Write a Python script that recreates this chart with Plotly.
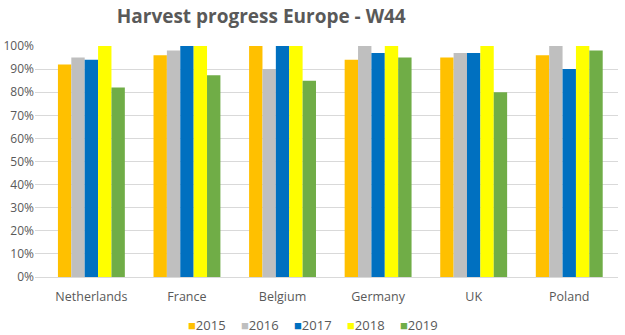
import plotly.graph_objects as go

countries = ["Netherlands", "France", "Belgium", "Germany", "UK", "Poland"]
years = ["2015", "2016", "2017", "2018", "2019"]
v2015 = [0.92, 0.96, 1.00, 0.94, 0.95, 0.96]
v2016 = [0.95, 0.98, 0.90, 1.00, 0.97, 1.00]
v2017 = [0.94, 1.00, 1.00, 0.97, 0.97, 0.90]
v2018 = [1.00, 1.00, 1.00, 1.00, 1.00, 1.00]
v2019 = [0.82, 0.873, 0.85, 0.95, 0.80, 0.98]
colors = ["#FFC000", "#BFBFBF", "#0070C0", "#FFFF00", "#70AD47"]

fig = go.Figure()
for y, vals, c in zip(years, [v2015, v2016, v2017, v2018, v2019], colors):
    fig.add_trace(go.Bar(name=y, x=countries, y=vals, marker_color=c,
                         marker_line_width=0, showlegend=False))

font = "Open Sans, Liberation Sans, sans-serif"
W, H = 625, 335
ml, mr, mt, mb = 35, 7, 46, 58
pw, ph = W - ml - mr, H - mt - mb

# custom compact legend (Excel-like), built from years/colors
leg_start_px, leg_step_px, leg_y_px = 186, 53, 325
for i, (yr, c) in enumerate(zip(years, colors)):
    fig.add_annotation(
        xref="paper", yref="paper",
        x=(leg_start_px + i * leg_step_px - ml) / pw,
        y=(H - mb - leg_y_px) / ph,
        xanchor="left", yanchor="middle", showarrow=False,
        text=f"<span style='color:{c}'>■</span>{yr}",
        font=dict(family=font, size=13, color="#595959"),
    )

fig.update_layout(
    width=W, height=H,
    margin=dict(l=ml, r=mr, t=mt, b=mb, autoexpand=False),
    paper_bgcolor="white", plot_bgcolor="white",
    barmode="group", bargap=0.3, bargroupgap=0,
    title=dict(text="<b>Harvest progress Europe - W44</b>", x=0.418, xanchor="center",
               y=0.95, yanchor="middle", font=dict(family=font, size=19, color="#595959")),
    font=dict(family=font, size=12, color="#595959"),
    yaxis=dict(range=[0, 1], dtick=0.1, tickformat=".0%", gridcolor="#D9D9D9",
               gridwidth=1, zeroline=False, showline=False, ticks="",
               tickfont=dict(size=12, color="#595959")),
    xaxis=dict(showline=True, linecolor="#D9D9D9", ticks="", ticklabelstandoff=8,
               range=[-0.59, 5.51],
               tickfont=dict(size=12.5, color="#595959")),
)
fig.write_html("out.html")
